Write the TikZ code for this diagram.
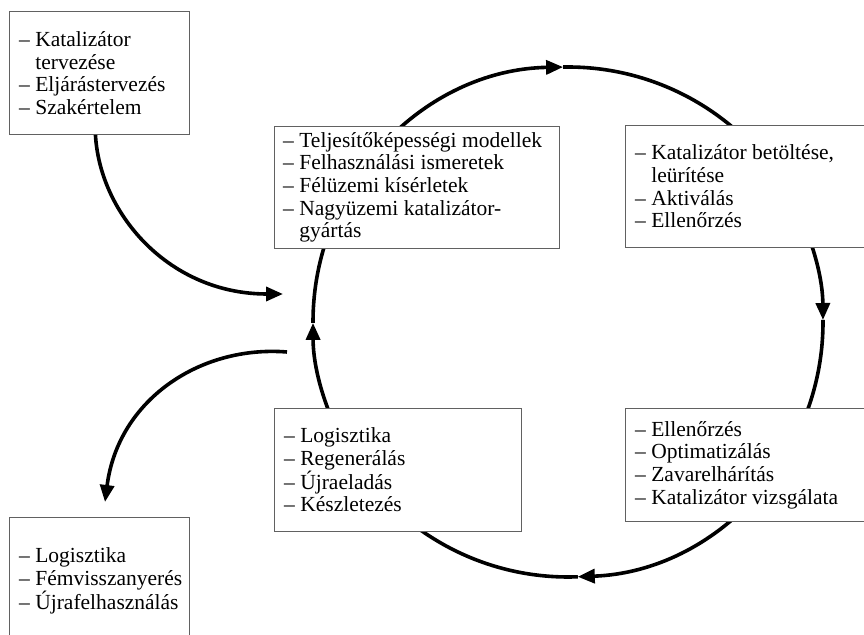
\documentclass[tikz,border=0pt]{standalone}
\usepackage{fontspec}
\setmainfont{Liberation Serif}
\usetikzlibrary{arrows.meta,backgrounds}
\tikzset{
  box/.style={draw=black!62, line width=0.9pt, fill=white, rectangle, anchor=north west,
    inner sep=0pt},
  txt/.style={anchor=west, inner sep=0pt, align=left,
    font=\fontsize{21.5}{22.6}\selectfont},
  cyc/.style={line width=3.6pt, -{Triangle[length=17pt,width=14pt]}},
  side/.style={line width=3.6pt, -{Triangle[length=17pt,width=14pt]}},
}
\newcommand{\ind}{\hphantom{–\ }}
\begin{document}
\begin{tikzpicture}[x=1pt,y=1pt]
\clip (0,0) rectangle (864,634);

\node[box, minimum width=180pt, minimum height=123pt] (b1) at (9,623) {};
\node[txt] (t1) at ([xshift=10pt]b1.west)
  {– Katalizátor\\ \ind tervezése\\ – Eljárástervezés\\ – Szakértelem};
\node[box, minimum width=285pt, minimum height=122pt] (b2) at (274,508) {};
\node[txt] (t2) at ([xshift=9pt]b2.west)
  {– Teljesítőképességi modellek\\ – Felhasználási ismeretek\\ – Félüzemi kísérletek\\ – Nagyüzemi katalizátor-\\ \ind gyártás};
\node[box, minimum width=250pt, minimum height=122pt] (b3) at (625,509) {};
\node[txt] (t3) at ([xshift=10pt]b3.west)
  {– Katalizátor betöltése,\\ \ind leürítése\\ – Aktiválás\\ – Ellenőrzés};
\node[box, minimum width=247pt, minimum height=123pt] (b4) at (274,226) {};
\node[txt] (t4) at ([xshift=10pt]b4.west)
  {– Logisztika\\ – Regenerálás\\ – Újraeladás\\ – Készletezés};
\node[box, minimum width=250pt, minimum height=113pt] (b5) at (625,226) {};
\node[txt] (t5) at ([xshift=10pt]b5.west)
  {– Ellenőrzés\\ – Optimatizálás\\ – Zavarelhárítás\\ – Katalizátor vizsgálata};
\node[box, minimum width=180pt, minimum height=127pt] (b6) at (9,117) {};
\node[txt] (t6) at ([xshift=10pt]b6.west)
  {– Logisztika\\ – Fémvisszanyerés\\ – Újrafelhasználás};

\coordinate (c) at (568,312);
\coordinate (inA) at (283,340);
\coordinate (outB) at (287,282);
\coordinate (tipB) at (105,132);

\begin{pgfonlayer}{background}
  \fill[white] (0,0) rectangle (864,634);
  \draw[cyc] (c) ++(180.2:255) arc[start angle=180.2, end angle=91.1, radius=255];
  \draw[cyc] (c) ++(91.1:255) arc[start angle=91.1, end angle=0.45, radius=255];
  \draw[cyc] (c) ++(0.45:255) arc[start angle=0.45, end angle=-87.8, radius=255];
  \draw[cyc] (c) ++(-87.8:255) arc[start angle=-87.8, end angle=-179.8, radius=255];
\end{pgfonlayer}

\draw[side] ([xshift=-4pt]b1.south) .. controls (100,419) and (170,340) .. (inA);
\draw[side] (outB) .. controls (200,289) and (118,234) .. (tipB);
\end{tikzpicture}
\end{document}
